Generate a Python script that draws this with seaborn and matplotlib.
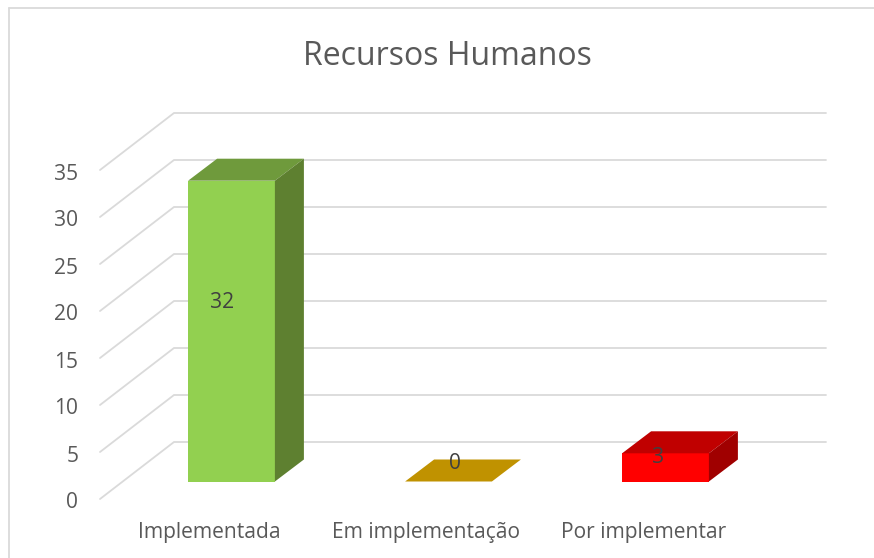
import matplotlib
matplotlib.use('Agg')
import matplotlib.pyplot as plt
import matplotlib.transforms as mtrans
from matplotlib.lines import Line2D
from matplotlib.patches import Polygon
import pandas as pd
import seaborn as sns

categories = ['Implementada', 'Em implementação', 'Por implementar']
values = [32, 0, 3]
y_ticks = [0, 5, 10, 15, 20, 25, 30, 35]

front_colors = ['#92D050', '#C09200', '#FF0000']
top_colors = ['#6F9A3C', '#C09200', '#C00000']
side_colors = ['#5E8030', '#907000', '#A00000']
label_offsets = [(-9, 29), (6, 18), (-7, 10)]

W, H = 874, 558
px_x = 217.0   # pixels per category
px_y = 9.4     # pixels per value unit
grey = '#DADADA'
text_grey = '#595959'

sns.set_theme(style='white')
plt.rcParams['font.family'] = ['Open Sans', 'DejaVu Sans']

fig = plt.figure(figsize=(W / 100, H / 100), dpi=100)
left, right, bottom, top = 100, 826, 481.5, 100
ax = fig.add_axes([left / W, 1 - bottom / H, (right - left) / W, (bottom - top) / H])

df = pd.DataFrame({'Estado': categories, 'Total': values})
sns.barplot(data=df, x='Estado', y='Total', hue='Estado', palette=front_colors,
            order=categories, hue_order=categories, width=0.4, saturation=1,
            legend=False, linewidth=0, ax=ax, zorder=3)

ax.set_xlim((left - 231.5) / px_x, (right - 231.5) / px_x)
ax.set_ylim(0, (bottom - top) / px_y)
ax.set_xlabel('')
ax.set_ylabel('')
sns.despine(ax=ax, left=True, bottom=True)

# side walls of the grid, pushed back from the bar plane
x0 = ax.get_xlim()[0]
front_y = -17.5 / px_y
back_y = 39.5 / px_y
x_back = x0 + 74 / px_x
for v in y_ticks:
    ax.plot([x0, x_back, ax.get_xlim()[1]], [v + front_y, v + back_y, v + back_y],
            color=grey, lw=1.3, clip_on=False, zorder=1, solid_joinstyle='miter')

# fake 3d: top and side faces from every bar
dx = 29 / px_x
dy = 22 / px_y
for i, bar in enumerate(ax.patches):
    x1 = bar.get_x()
    x2 = x1 + bar.get_width()
    h = bar.get_height()
    ax.add_patch(Polygon([(x1, h), (x2, h), (x2 + dx, h + dy), (x1 + dx, h + dy)],
                         fc=top_colors[i], lw=0, zorder=3))
    if h > 0:
        ax.add_patch(Polygon([(x2, 0), (x2 + dx, dy), (x2 + dx, h + dy), (x2, h)],
                             fc=side_colors[i], lw=0, zorder=3))
    ax.annotate(str(values[i]), (x1 + bar.get_width() / 2, h / 2),
                xytext=(label_offsets[i][0] * 0.72, label_offsets[i][1] * 0.72),
                textcoords='offset points', ha='center', va='center',
                fontsize=15.1, color='#404040', zorder=5)

ax.set_yticks(y_ticks)
ax.set_yticklabels([str(v) for v in y_ticks])
ax.tick_params(axis='y', length=0, pad=15.5, labelsize=15.1, labelcolor=text_grey)
ax.tick_params(axis='x', length=0, pad=29, labelsize=15.1, labelcolor=text_grey)

down = mtrans.ScaledTranslation(0, -0.19, fig.dpi_scale_trans)
for lab in ax.get_yticklabels():
    lab.set_transform(lab.get_transform() + down)
shift = mtrans.ScaledTranslation(-0.22, 0, fig.dpi_scale_trans)
for lab in ax.get_xticklabels():
    lab.set_transform(lab.get_transform() + shift)

fig.text(447 / W, 1 - 56 / H, 'Recursos Humanos', ha='center', va='center',
         fontsize=23, color=text_grey)

# chart frame, only top and left are inside the crop
fig.add_artist(Line2D([9 / W, 9 / W], [0, 1 - 7.5 / H], color=grey, lw=1.3))
fig.add_artist(Line2D([9 / W, 1], [1 - 7.5 / H, 1 - 7.5 / H], color=grey, lw=1.3))

fig.savefig('out.png', dpi=100)
